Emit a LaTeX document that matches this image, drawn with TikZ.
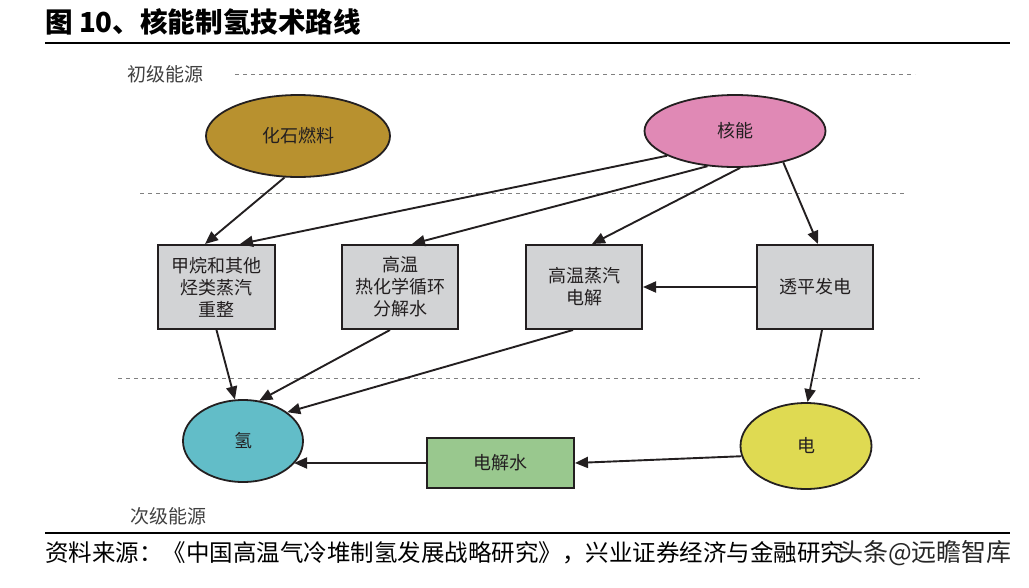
\documentclass[tikz,border=0pt]{standalone}
\usepackage{fontspec}
\setmainfont{Noto Sans CJK SC}
\usetikzlibrary{arrows.meta,shapes.geometric,calc}
\definecolor{lc}{HTML}{231F20}
\definecolor{tc}{HTML}{231F20}
\definecolor{gold}{HTML}{B8912F}
\definecolor{pinkc}{HTML}{E089B5}
\definecolor{cyanc}{HTML}{62BDC8}
\definecolor{yelc}{HTML}{DFDA52}
\definecolor{boxgray}{HTML}{D2D3D5}
\definecolor{greenc}{HTML}{99C88E}
\definecolor{lvlc}{HTML}{404040}
\begin{document}
\begin{tikzpicture}[x=1pt,y=-1pt,
 ell/.style={ellipse,draw=lc,line width=1.8pt,inner sep=0pt,font=\fontsize{18}{22}\selectfont,text=tc},
 box/.style={rectangle,draw=lc,line width=2pt,fill=boxgray,inner sep=0pt,align=center,font=\fontsize{18}{22}\selectfont,text=tc},
 arr/.style={-{Triangle[length=13pt,width=11pt]},line width=1.9pt,draw=lc},
 sepline/.style={dash pattern=on 4pt off 4pt,line width=1pt,draw=gray},
 rule/.style={line width=2pt,draw=black},
 lvl/.style={font=\fontsize{19}{22}\selectfont,text=lvlc,inner sep=0pt}
]
\useasboundingbox (0,0) rectangle (1029,587);

% title
\node[anchor=west,inner sep=0pt,font=\fontsize{27.6}{32}\selectfont\bfseries] (title) at (45,22) {图 10、核能制氢技术路线};
\coordinate (r1a) at (45,43); \coordinate (r1b) at (1010,43);
\draw[rule] (r1a) -- (r1b);

% level labels and separators
\node[lvl,anchor=west] (lv1) at (127,74) {初级能源};
\coordinate (s1a) at (235,74); \coordinate (s1b) at (915,74);
\draw[sepline] (s1a) -- (s1b);
\coordinate (s2a) at (140,193); \coordinate (s2b) at (905,193);
\draw[sepline] (s2a) -- (s2b);
\coordinate (s3a) at (118,378); \coordinate (s3b) at (920,378);
\draw[sepline] (s3a) -- (s3b);
\node[lvl,anchor=west] (lv2) at (130,516) {次级能源};

% nodes
\node[ell,fill=gold,minimum width=184pt,minimum height=82pt] (fossil) at (298,136) {化石燃料};
\node[ell,fill=pinkc,minimum width=181pt,minimum height=72pt] (nuc) at (735,131) {核能};
\node[box,minimum width=117pt,minimum height=84pt] (b1) at (216.5,287) {甲烷和其他\\烃类蒸汽\\重整};
\node[box,minimum width=116pt,minimum height=84pt] (b2) at (400,287) {高温\\热化学循环\\分解水};
\node[box,minimum width=116pt,minimum height=84pt] (b3) at (584,287) {高温蒸汽\\电解};
\node[box,minimum width=116pt,minimum height=84pt] (b4) at (815,287) {透平发电};
\node[ell,fill=cyanc,minimum width=120pt,minimum height=82pt] (h2) at (243,441) {氢};
\node[ell,fill=yelc,minimum width=131pt,minimum height=86pt] (elec) at (806,446) {电};
\node[box,fill=greenc,minimum width=147pt,minimum height=50pt] (ew) at (500.5,463) {电解水};

% arrows
\draw[arr] (fossil.-108) -- ([xshift=-11.5pt]b1.north);
\draw[arr] (nuc.-160) -- ([xshift=23.5pt]b1.north);
\draw[arr] (nuc.-128) -- ([xshift=12pt]b2.north);
\draw[arr] (nuc.-82) -- ([xshift=8pt]b3.north);
\draw[arr] (nuc.-33) -- ([xshift=3pt]b4.north);
\draw[arr] (b4.west) -- (b3.east);
\draw[arr] (b1.south) -- (h2.101);
\draw[arr] ([xshift=-10pt]b2.south) -- (h2.68);
\draw[arr] ([xshift=-11pt]b3.south) -- (h2.33);
\draw[arr] ([xshift=7pt]b4.south) -- (elec.88);
\draw[arr] (elec.189) -- (ew.east);
\coordinate (h2in) at ($(h2.center)+(51,22)$);
\draw[arr] (ew.west) -- (h2in);

% bottom rule and source
\coordinate (r2a) at (45,533); \coordinate (r2b) at (1010,533);
\draw[rule] (r2a) -- (r2b);
\node[anchor=west,inner sep=0pt,font=\fontsize{23.5}{27}\selectfont] (src) at (45,553) {资料来源：《中国高温气冷堆制氢发展战略研究》，兴业证券经济与金融研究};
\node[anchor=east,inner sep=0pt,font=\fontsize{25}{28}\selectfont,text=black!85] (wm) at (1012,553) {头条@远瞻智库};
\end{tikzpicture}
\end{document}
